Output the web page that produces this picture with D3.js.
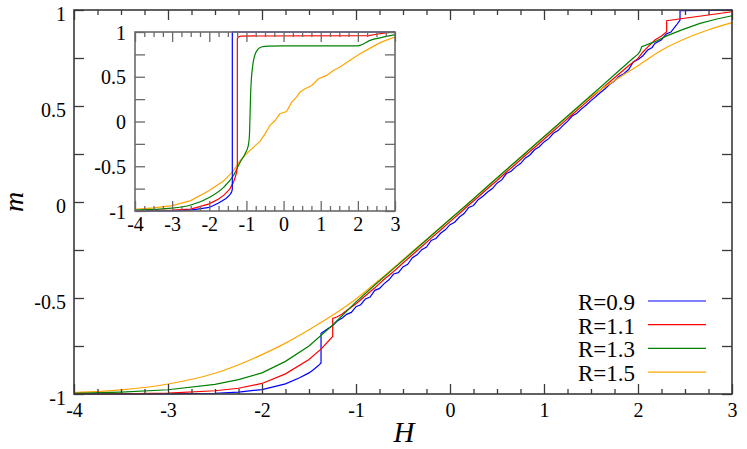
<!DOCTYPE html>
<meta charset="utf-8">
<style>
body { margin: 0; background: #fff; }
svg text { font-family: "Liberation Serif", "Times New Roman", serif; fill: #000; }
</style>
<body>
<script src="https://cdn.jsdelivr.net/npm/d3@7/dist/d3.min.js"></script>
<script>
// series labels and colours
var labels = ["R=0.9", "R=1.1", "R=1.3", "R=1.5"];
var colors = ["#0000ff", "#ff0000", "#008000", "#ffa500"];

// main plot, [H, m]
var mainR09 = [[-4,-1],[-3,-0.999],[-2.5,-0.996],[-2.25,-0.99],[-2,-0.977],[-1.75,-0.947],[-1.6,-0.915],[-1.5,-0.89],[-1.45,-0.872],[-1.4,-0.852],[-1.372,-0.838],[-1.372,-0.684],
  [-1.3,-0.66],[-1.25,-0.645],[-1.2,-0.62],[-1.15,-0.605],[-1.1,-0.585],[-1.05,-0.575],[-1.0,-0.545],[-0.95,-0.535],[-0.9,-0.505],[-0.85,-0.495],[-0.8,-0.46],[-0.75,-0.45],[-0.7,-0.425],[-0.65,-0.405],[-0.6,-0.375],[-0.55,-0.368],[-0.5,-0.338],[-0.45,-0.325],[-0.4,-0.29],[-0.35,-0.275],[-0.3,-0.248],[-0.25,-0.235],[-0.2,-0.2],[-0.15,-0.19],[-0.1,-0.163],[-0.05,-0.145],[0,-0.118],[0.05,-0.105],[0.1,-0.078],[0.15,-0.06],[0.2,-0.028],[0.25,-0.018],[0.3,0.012],[0.35,0.03],[0.4,0.052],[0.45,0.07],[0.5,0.098],[0.55,0.115],[0.6,0.148],[0.65,0.16],[0.7,0.183],[0.75,0.2],[0.8,0.228],[0.85,0.245],[0.9,0.272],[0.95,0.288],[1.0,0.313],[1.05,0.33],[1.1,0.358],[1.15,0.372],[1.2,0.398],[1.25,0.42],[1.3,0.448],[1.35,0.462],[1.4,0.485],[1.45,0.505],[1.5,0.528],[1.55,0.548],[1.6,0.57],[1.65,0.59],[1.7,0.613],[1.75,0.63],[1.8,0.655],[1.85,0.668],[1.9,0.69],[1.95,0.73],[2.0,0.742],[2.05,0.76],[2.1,0.79],[2.15,0.805],[2.18,0.826],[2.25,0.845],[2.3,0.875],[2.35,0.885],[2.41,0.922],[2.447,0.948],[2.447,0.996],[3,0.999]];
var mainR11 = [[-4,-1],[-3.5,-0.999],[-3,-0.995],[-2.5,-0.983],[-2.25,-0.97],[-2,-0.945],[-1.75,-0.895],[-1.5,-0.82],[-1.37,-0.765],[-1.248,-0.70],[-1.248,-0.606],[-1.2,-0.598],[-1.15,-0.585],[-1.1,-0.565],[-1.05,-0.548],[-1.0,-0.53],[-0.9,-0.488],[-0.8,-0.447],[-0.7,-0.402],[-0.6,-0.362],[-0.5,-0.318],[-0.4,-0.275],[-0.3,-0.232],[-0.2,-0.188],[-0.1,-0.146],[0,-0.102],[0.1,-0.06],[0.2,-0.016],[0.3,0.026],[0.4,0.07],[0.5,0.112],[0.6,0.156],[0.7,0.198],[0.8,0.242],[0.9,0.284],[1.0,0.327],[1.1,0.37],[1.2,0.412],[1.3,0.456],[1.4,0.498],[1.5,0.541],[1.6,0.584],[1.7,0.626],[1.8,0.668],[1.9,0.71],[2.0,0.748],[2.05,0.78],[2.1,0.805],[2.18,0.844],[2.25,0.865],[2.305,0.887],[2.305,0.944],[3,0.991]];
var mainR13 = [[-4,-0.997],[-3.5,-0.99],[-3,-0.978],[-2.5,-0.95],[-2.25,-0.925],[-2,-0.89],[-1.75,-0.83],[-1.5,-0.75],[-1.25,-0.642],[-1,-0.52],[-0.8,-0.432],[-0.6,-0.347],[-0.4,-0.262],[-0.2,-0.176],[0,-0.09],[0.2,-0.005],[0.4,0.082],[0.6,0.168],[0.8,0.254],[1.0,0.34],[1.2,0.426],[1.4,0.512],[1.6,0.598],[1.8,0.685],[1.95,0.75],[2.0,0.77],[2.02,0.783],[2.04,0.809],[2.18,0.835],[2.305,0.865],[2.48,0.899],[2.66,0.93],[2.84,0.953],[3,0.97]];
var mainR15 = [[-4,-0.993],[-3.5,-0.979],[-3,-0.948],[-2.5,-0.892],[-2,-0.795],[-1.75,-0.735],[-1.5,-0.665],[-1.25,-0.59],[-1,-0.505],[-0.75,-0.405],[-0.5,-0.30],[-0.25,-0.195],[0,-0.09],[0.5,0.125],[1.0,0.34],[1.25,0.445],[1.5,0.55],[1.75,0.632],[2.0,0.71],[2.25,0.79],[2.5,0.85],[2.75,0.897],[3,0.934]];

// inset
var insetR09 = [[-4,-1],[-3,-1],[-2.5,-0.99],[-2,-0.96],[-1.75,-0.91],[-1.55,-0.86],[-1.45,-0.82],[-1.4,-0.79],[-1.38,-0.76],[-1.38,1],[3,1]];
var insetR11 = [[-4,-1],[-3,-0.99],[-2.5,-0.978],[-2,-0.92],[-1.75,-0.865],[-1.6,-0.82],[-1.45,-0.755],[-1.35,-0.68],[-1.3,-0.62],[-1.26,-0.56],[-1.245,-0.5],[-1.245,0.925],[-1.22,0.945],[-1.15,0.955],[2.3,0.96],[2.5,0.975],[2.75,0.99],[3,1]];
var insetR13 = [[-4,-0.99],[-3,-0.968],[-2.5,-0.933],[-2,-0.848],[-1.6,-0.73],[-1.35,-0.604],[-1.17,-0.455],[-1.04,-0.362],[-0.95,-0.27],[-0.92,-0.16],[-0.885,0.33],[-0.83,0.627],[-0.74,0.776],[-0.6,0.832],[-0.4,0.842],[0,0.845],[2.0,0.845],[2.1,0.858],[2.33,0.907],[2.6,0.935],[3,0.97]];
var insetR15 = [[-4,-0.981],[-3.5,-0.965],[-3,-0.94],[-2.5,-0.884],[-2,-0.772],[-1.6,-0.66],[-1.35,-0.55],[-1.17,-0.437],[-1,-0.362],[-0.81,-0.287],[-0.63,-0.22],[-0.5,-0.138],[-0.37,-0.045],[-0.23,0.011],[-0.1,0.086],[0.08,0.112],[0.22,0.216],[0.35,0.272],[0.44,0.328],[0.58,0.366],[0.76,0.403],[0.94,0.478],[1.16,0.515],[1.34,0.571],[1.52,0.608],[1.79,0.683],[2.06,0.757],[2.33,0.82],[2.6,0.881],[2.82,0.918],[3,0.944]];

var xMajor = [-4, -3, -2, -1, 0, 1, 2, 3];
var yMajor = [-1, -0.5, 0, 0.5, 1];

var svg = d3.select("body").append("svg")
    .attr("width", 747)
    .attr("height", 449);

// draws frame, ticks and curves for one panel
function panel(box, series, opt) {
  var x = d3.scaleLinear().domain([-4, 3]).range([box.x0, box.x1]);
  var y = d3.scaleLinear().domain([-1, 1]).range([box.y1, box.y0]);
  var g = svg.append("g");
  var xMinor = d3.range(-4, 3.001, 0.25).filter(function(d) { return d % 1 !== 0; });
  var yAll = d3.range(-1, 1.001, 0.25);

  g.append("rect").attr("x", box.x0).attr("y", box.y0)
    .attr("width", box.x1 - box.x0).attr("height", box.y1 - box.y0)
    .attr("fill", "#fff");

  var line = d3.line().x(function(d) { return x(d[0]); }).y(function(d) { return y(d[1]); });
  series.forEach(function(s) {
    g.append("path").datum(s.data)
      .attr("fill", "none")
      .attr("stroke", s.color)
      .attr("stroke-width", 1.2)
      .attr("d", line.curve(s.smooth ? d3.curveMonotoneX : d3.curveLinear));
  });

  function style(a) {
    a.select(".domain").remove();
    a.attr("font-family", null).attr("font-size", null);
    a.selectAll("line").attr("stroke", opt.frame).attr("stroke-width", 1.3);
    a.selectAll("text").attr("font-size", 20);
  }
  var lbl = function(d) { return String(d); };

  // bottom / top x
  g.append("g").attr("transform", "translate(0," + box.y1 + ")")
    .call(d3.axisBottom(x).tickValues(xMajor).tickSize(-10).tickPadding(opt.xPad).tickFormat(lbl)).call(style);
  g.append("g").attr("transform", "translate(0," + box.y1 + ")")
    .call(d3.axisBottom(x).tickValues(xMinor).tickSize(-5).tickFormat("")).call(style);
  g.append("g").attr("transform", "translate(0," + box.y0 + ")")
    .call(d3.axisTop(x).tickValues(xMajor).tickSize(-10).tickFormat("")).call(style);
  g.append("g").attr("transform", "translate(0," + box.y0 + ")")
    .call(d3.axisTop(x).tickValues(xMinor).tickSize(-5).tickFormat("")).call(style);
  // left / right y
  var yl = g.append("g").attr("transform", "translate(" + box.x0 + ",0)")
    .call(d3.axisLeft(y).tickValues(yAll).tickSize(-10).tickPadding(opt.yPad)
      .tickFormat(function(d) { return yMajor.indexOf(d) >= 0 ? String(d) : ""; })).call(style);
  yl.selectAll("text").attr("dy", null).attr("y", opt.yBase);
  g.append("g").attr("transform", "translate(" + box.x1 + ",0)")
    .call(d3.axisRight(y).tickValues(yAll).tickSize(-10).tickFormat("")).call(style);

  g.append("rect").attr("x", box.x0).attr("y", box.y0)
    .attr("width", box.x1 - box.x0).attr("height", box.y1 - box.y0)
    .attr("fill", "none").attr("stroke", opt.frame).attr("stroke-width", 1.6);
  return {x: x, y: y};
}

var mainBox = {x0: 74, x1: 732, y0: 10, y1: 394};
var mainSeries = [
  {data: mainR09, color: colors[0]},
  {data: mainR11, color: colors[1]},
  {data: mainR15, color: colors[3], smooth: true},
  {data: mainR13, color: colors[2]}
];
panel(mainBox, mainSeries, {frame: "#3a3a3a", xPad: 9, yPad: 8, yBase: 10});

var insetBox = {x0: 135, x1: 395, y0: 32, y1: 211};
var insetSeries = [
  {data: insetR15, color: colors[3]},
  {data: insetR13, color: colors[2], smooth: true},
  {data: insetR11, color: colors[1]},
  {data: insetR09, color: colors[0]}
];
panel(insetBox, insetSeries, {frame: "#6a6a6a", xPad: 6, yPad: 9, yBase: 7});

// axis titles
svg.append("text")
  .attr("x", (mainBox.x0 + mainBox.x1) / 2 + 1).attr("y", 442)
  .attr("text-anchor", "middle")
  .attr("font-size", 29).attr("font-style", "italic")
  .text("H");
svg.append("text")
  .attr("transform", "translate(23," + (mainBox.y0 + mainBox.y1) / 2 + ") rotate(-90)")
  .attr("text-anchor", "middle")
  .attr("font-size", 28).attr("font-style", "italic")
  .text("m");

// legend
var leg = svg.append("g");
labels.forEach(function(t, i) {
  var ly = 301 + i * 23.7;
  leg.append("text").attr("x", 635).attr("y", ly + 9)
    .attr("text-anchor", "end").attr("font-size", 23).text(t);
  leg.append("line").attr("x1", 648).attr("x2", 706).attr("y1", ly).attr("y2", ly)
    .attr("stroke", colors[i]).attr("stroke-width", 1.2);
});
</script>
